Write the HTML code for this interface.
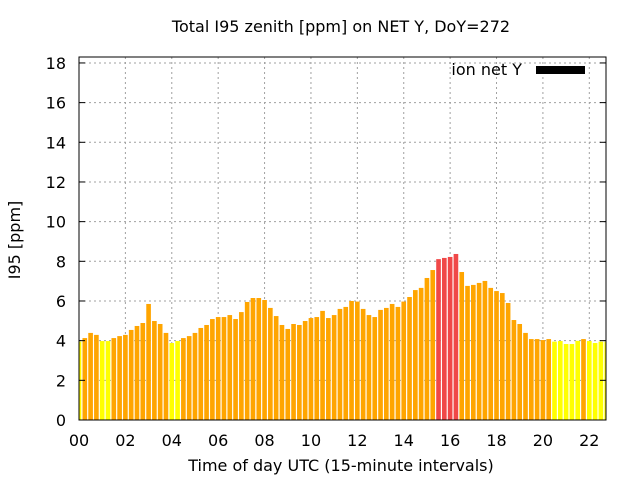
<!DOCTYPE html>
<html><head><meta charset="utf-8"><style>
body{margin:0;background:#fff}
svg text{font-family:"DejaVu Sans","Liberation Sans",sans-serif;fill:#000}
</style></head><body>
<svg id="chart" width="640" height="480" xmlns="http://www.w3.org/2000/svg">
<text x="341" y="32" font-size="16" text-anchor="middle">Total I95 zenith [ppm] on NET Y, DoY=272</text>
<text x="341" y="471" font-size="16" text-anchor="middle">Time of day UTC (15-minute intervals)</text>
<text x="20" y="240" font-size="16" text-anchor="middle" transform="rotate(-90 20 240)">I95 [ppm]</text>
<g id="grid"></g>
<g id="bars"></g>
<g id="axes"></g>
<g>
<text x="522" y="75" font-size="16" text-anchor="end">ion net Y</text>
<rect x="536" y="66" width="49" height="8" fill="#000"/>
</g>
</svg>
<script>
const values = [3.95,4.13,4.39,4.29,3.98,3.98,4.13,4.23,4.29,4.54,4.74,4.89,5.85,4.99,4.84,4.39,3.88,3.98,4.13,4.23,4.39,4.64,4.79,5.09,5.19,5.19,5.29,5.09,5.44,5.95,
6.15,6.15,6.05,5.65,5.24,4.79,4.59,4.84,4.79,4.99,5.14,5.19,5.50,5.14,5.29,5.60,5.70,6.00,5.97,5.60,5.29,5.19,5.55,5.65,5.85,5.70,5.97,6.20,6.55,6.66,
7.16,7.56,8.11,8.17,8.22,8.37,7.46,6.76,6.81,6.91,7.01,6.66,6.50,6.40,5.90,5.04,4.84,4.39,4.08,4.08,4.03,4.08,3.95,3.98,3.83,3.83,3.99,4.08,3.98,3.88,3.95,3.95];
const yTicks = [0,2,4,6,8,10,12,14,16,18];
const xTicks = [0,2,4,6,8,10,12,14,16,18,20,22];
const xTickLabels = ["00","02","04","06","08","10","12","14","16","18","20","22"];
const NS="http://www.w3.org/2000/svg";
const L=79,R=606,T=57,B=420;
const xMin=0,xMax=22.72,yMin=0,yMax=18.3;
const X=h=>L+(h-xMin)/(xMax-xMin)*(R-L);
const Y=v=>B-(v-yMin)/(yMax-yMin)*(B-T);
function mk(t,a,p){const e=document.createElementNS(NS,t);for(const k in a)e.setAttribute(k,a[k]);p.appendChild(e);return e;}
const grid=document.getElementById('grid'),bars=document.getElementById('bars'),axes=document.getElementById('axes');
const clip=mk('clipPath',{id:'pc'},document.getElementById('chart'));
mk('rect',{x:L,y:T,width:R-L,height:B-T},clip);
bars.setAttribute('clip-path','url(#pc)');
yTicks.forEach(v=>{
 if(v>0){const g=mk('line',{x1:L,x2:R,y1:Y(v),y2:Y(v),stroke:'#a0a0a0','stroke-dasharray':'2,3'},grid);
 
 }
 const t=mk('text',{x:L-13,y:Y(v)+6,'font-size':16,'text-anchor':'end'},axes);t.textContent=v;
 
 
 mk('line',{x1:L,x2:L+6,y1:Y(v),y2:Y(v),stroke:'#000'},axes);
 mk('line',{x1:R,x2:R-6,y1:Y(v),y2:Y(v),stroke:'#000'},axes);
});
xTicks.forEach((h,i)=>{
 if(h>0){const g=mk('line',{x1:X(h),x2:X(h),y1:T,y2:B,stroke:'#a0a0a0','stroke-dasharray':'2,3'},grid);
 
 }
 const t=mk('text',{x:X(h),y:B+26,'font-size':16,'text-anchor':'middle'},axes);t.textContent=xTickLabels[i];
 
 
});
const w=(X(0.25)-X(0))*0.8;
values.forEach((v,i)=>{
 const c=v>=8?'#f04848':(v<4?'#ffff00':'#ffa500');
 const r=mk('rect',{x:X(i*0.25)-w/2,y:Y(v),width:w,height:B-Y(v),fill:c},bars);
 
 
});
mk('rect',{x:L,y:T,width:R-L,height:B-T,fill:'none',stroke:'#000'},axes);
</script>
</body></html>
